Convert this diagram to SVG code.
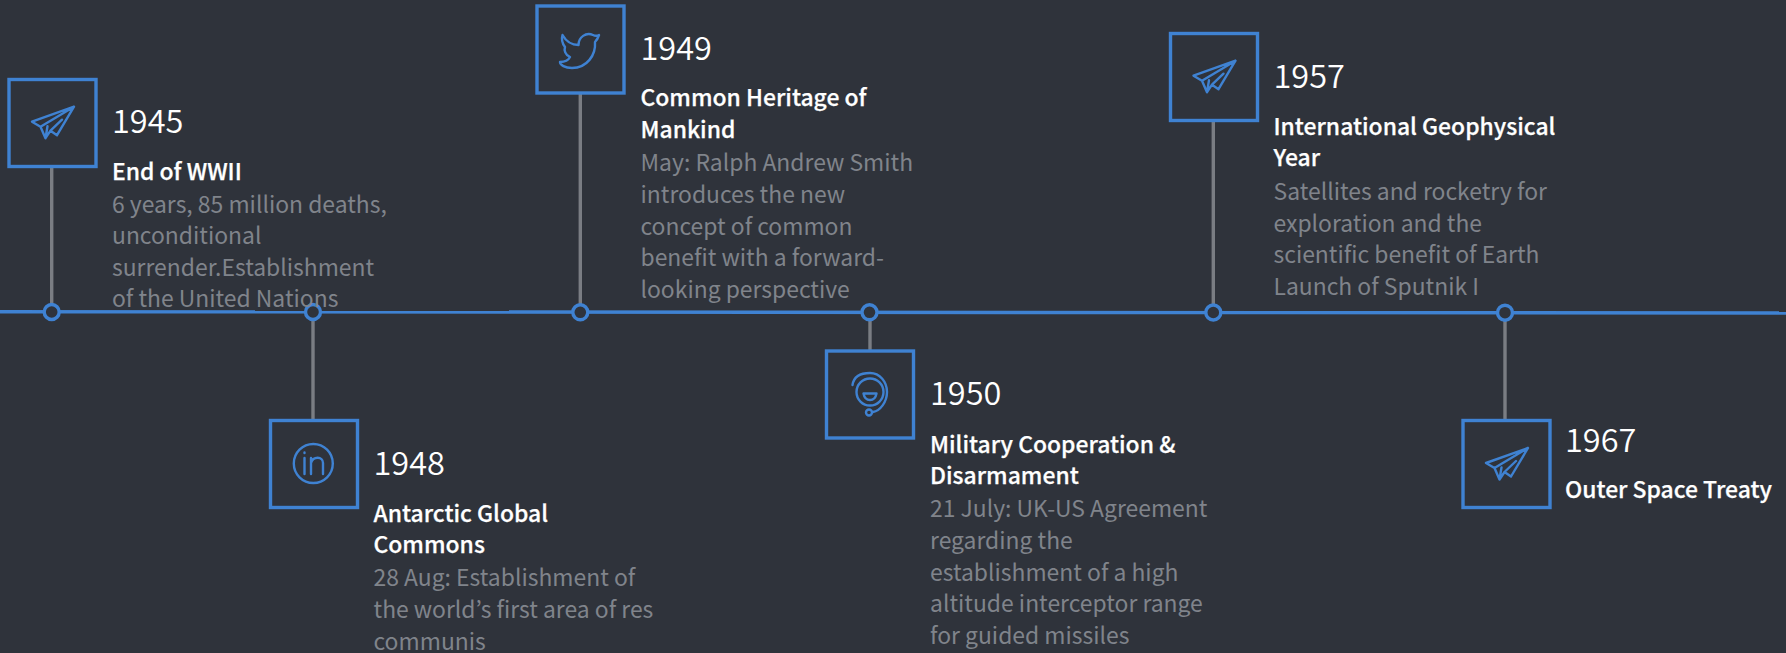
<svg xmlns="http://www.w3.org/2000/svg" width="1786" height="653" viewBox="0 0 1786 653">
<style>
text{font-family:"Noto Sans CJK KR","Noto Sans",sans-serif}
.y{font-size:32.5px;fill:#fff;font-weight:350}
.t{font-size:22.9px;fill:#fff;font-weight:500;stroke:#fff;stroke-width:.25}
.b{font-size:22.9px;fill:#80848b;font-weight:400}
.box{fill:#2f333b;stroke:#3f82d2;stroke-width:3.4}
.ico{fill:none;stroke:#3f82d2;stroke-width:2.4;stroke-linejoin:round;stroke-linecap:round}
.v{stroke:#7a7d83;stroke-width:3.4;fill:none}
.m{stroke:#3f82d2;stroke-width:3.4;fill:none}
.dot{fill:#2f333b;stroke:#3f82d2;stroke-width:3.4}
</style>
<defs>
<g id="plane"><path d="M21,-16L-21,-1L-12.5,4L-7.5,15.5L-2.5,8L4,12.5ZM21,-16L-12.5,4M-7.5,15.5L-5.5,3.5M-2.5,8L9,-3"/></g>
</defs>
<rect width="1786" height="653" fill="#2f333b"/>
<g id="connectors">
<path class="m" d="M0,311.7L1786,313"/>
<path class="v" d="M51.7,312V167M313,312V419M580.3,312V94M870,312V350M1213.3,312V121M1505,312V419"/>
<circle class="dot" cx="51.7" cy="312" r="7.5"/>
<circle class="dot" cx="313" cy="312" r="7.5"/>
<circle class="dot" cx="580.3" cy="312.3" r="7.5"/>
<circle class="dot" cx="869.5" cy="312.3" r="7.5"/>
<circle class="dot" cx="1213.3" cy="312.5" r="7.5"/>
<circle class="dot" cx="1505" cy="312.7" r="7.5"/>
</g>
<g id="n1945">
<rect class="box" x="9" y="79.5" width="87" height="87"/>
<use href="#plane" class="ico" x="53" y="122.7"/>
<text class="y" x="112" y="133">1945</text>
<text class="t" x="112" y="180">End of WWII</text>
<text class="b" x="112" y="212.5">6 years, 85 million deaths,</text>
<text class="b" x="112" y="244">unconditional</text>
<text class="b" x="112" y="275.5">surrender.Establishment</text>
<text class="b" x="112" y="307">of the United Nations</text>
</g>
<g id="n1948">
<rect class="box" x="270.5" y="420.5" width="87" height="87"/>
<circle class="ico" cx="313.3" cy="463.5" r="19.5"/>
<path class="ico" d="M304.5,458V474M304.5,452.5V453M311,474V458M311,463C313,456 323,456 323,463V474"/>
<text class="y" x="373.5" y="475">1948</text>
<text class="t" x="373.5" y="522">Antarctic Global</text>
<text class="t" x="373.5" y="553">Commons</text>
<text class="b" x="373.5" y="586">28 Aug: Establishment of</text>
<text class="b" x="373.5" y="617.5">the world’s first area of res</text>
<text class="b" x="373.5" y="649.5">communis</text>
</g>
<g id="n1949">
<rect class="box" x="537" y="6" width="87" height="87"/>
<path class="ico" d="M562.5,35C567,43 573,45 578.5,45C578.5,37 586,32 593,35C595,36 597,36 599,35C598,38 596,41 595,42C596,55 587,68 572,68C565,68 560,65 560,62C565,62 568,61 570,57C565,55 564,50 565,47C562,43 561,40 562.5,35Z"/>
<text class="y" x="640.5" y="60">1949</text>
<text class="t" x="640.5" y="106">Common Heritage of</text>
<text class="t" x="640.5" y="138">Mankind</text>
<text class="b" x="640.5" y="171">May: Ralph Andrew Smith</text>
<text class="b" x="640.5" y="202.5">introduces the new</text>
<text class="b" x="640.5" y="234.5">concept of common</text>
<text class="b" x="640.5" y="265.5">benefit with a forward-</text>
<text class="b" x="640.5" y="297.5">looking perspective</text>
</g>
<g id="n1950">
<rect class="box" x="826.5" y="351" width="87" height="87"/>
<path class="ico" d="M852.5,385C854,375 862,373 870,373C880,373 887,382 887,392C887,402 880,411 873,412"/>
<circle class="ico" cx="870" cy="392" r="13.5"/>
<path class="ico" d="M863.5,393.5H876.5C875.5,399 872,400 870,400C868,400 864.5,399 863.5,393.5Z"/>
<circle class="ico" cx="869" cy="412.5" r="3"/>
<text class="y" x="930" y="405">1950</text>
<text class="t" x="930" y="453">Military Cooperation &amp;</text>
<text class="t" x="930" y="484">Disarmament</text>
<text class="b" x="930" y="516.5">21 July: UK-US Agreement</text>
<text class="b" x="930" y="548.5">regarding the</text>
<text class="b" x="930" y="580.5">establishment of a high</text>
<text class="b" x="930" y="612">altitude interceptor range</text>
<text class="b" x="930" y="643.5">for guided missiles</text>
</g>
<g id="n1957">
<rect class="box" x="1170.5" y="33.5" width="87" height="87"/>
<use href="#plane" class="ico" x="1214.5" y="76.7"/>
<text class="y" x="1273.5" y="88">1957</text>
<text class="t" x="1273.5" y="135">International Geophysical</text>
<text class="t" x="1273.5" y="166">Year</text>
<text class="b" x="1273.5" y="199.5">Satellites and rocketry for</text>
<text class="b" x="1273.5" y="231.5">exploration and the</text>
<text class="b" x="1273.5" y="262.5">scientific benefit of Earth</text>
<text class="b" x="1273.5" y="294.5">Launch of Sputnik I</text>
</g>
<g id="n1967">
<rect class="box" x="1463" y="420.5" width="87" height="87"/>
<use href="#plane" class="ico" x="1507" y="464"/>
<text class="y" x="1565" y="451.5">1967</text>
<text class="t" x="1565" y="498">Outer Space Treaty</text>
</g>
</svg>
